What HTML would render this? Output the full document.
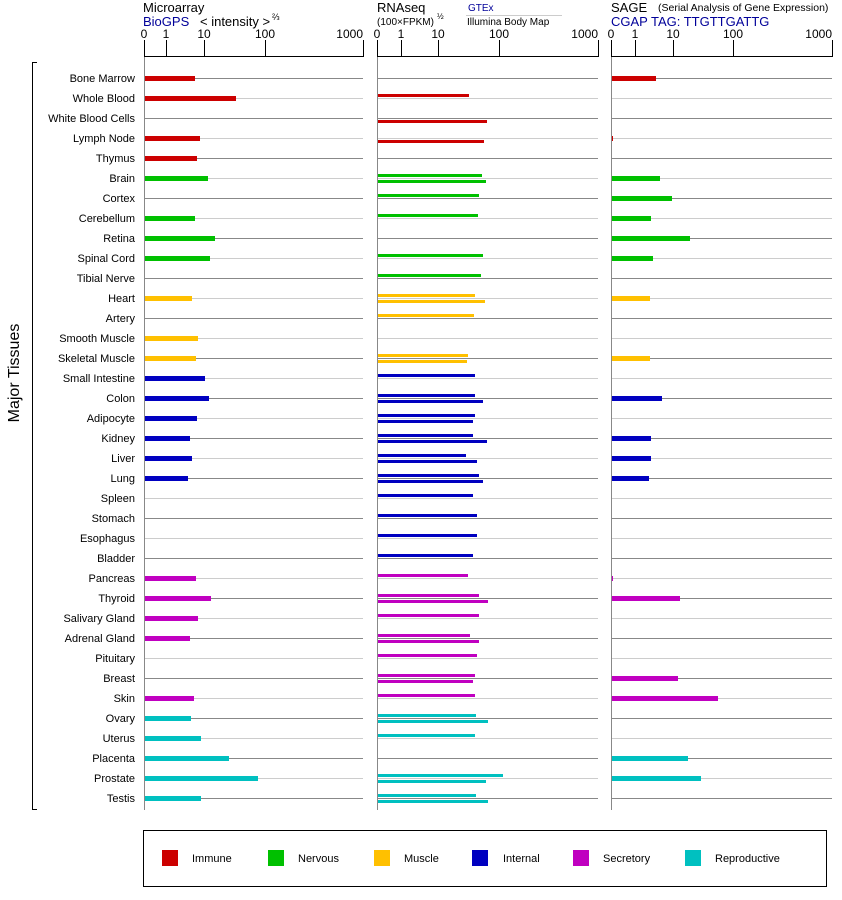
<!DOCTYPE html>
<html><head><meta charset="utf-8"><style>
body{margin:0;background:#fff;}
svg{display:block;font-family:"Liberation Sans",Arial,sans-serif;}
</style></head><body>
<svg id="s" width="842" height="900" xmlns="http://www.w3.org/2000/svg"></svg>
<script>
const S=document.getElementById('s');let h='';
const C={I:'#cc0000',N:'#00c000',M:'#ffc000',T:'#0000c0',S:'#c000c0',R:'#00c0c0'};
const rows=[
['Bone Marrow','I',195,null,null,656],
['Whole Blood','I',236,469,null,null],
['White Blood Cells','I',null,null,487,null],
['Lymph Node','I',200,null,484,613],
['Thymus','I',197,null,null,null],
['Brain','N',208,482,486,660],
['Cortex','N',null,479,null,672],
['Cerebellum','N',195,478,null,651],
['Retina','N',215,null,null,690],
['Spinal Cord','N',210,483,null,653],
['Tibial Nerve','N',null,481,null,null],
['Heart','M',192,475,485,650],
['Artery','M',null,474,null,null],
['Smooth Muscle','M',198,null,null,null],
['Skeletal Muscle','M',196,468,467,650],
['Small Intestine','T',205,475,null,null],
['Colon','T',209,475,483,662],
['Adipocyte','T',197,475,473,null],
['Kidney','T',190,473,487,651],
['Liver','T',192,466,477,651],
['Lung','T',188,479,483,649],
['Spleen','T',null,473,null,null],
['Stomach','T',null,477,null,null],
['Esophagus','T',null,477,null,null],
['Bladder','T',null,473,null,null],
['Pancreas','S',196,468,null,613],
['Thyroid','S',211,479,488,680],
['Salivary Gland','S',198,479,null,null],
['Adrenal Gland','S',190,470,479,null],
['Pituitary','S',null,477,null,null],
['Breast','S',null,475,473,678],
['Skin','S',194,475,null,718],
['Ovary','R',191,476,488,null],
['Uterus','R',201,475,null,null],
['Placenta','R',229,null,null,688],
['Prostate','R',258,503,486,701],
['Testis','R',201,476,488,null]];
const panels=[[144,363,[[144,'0'],[166,'1'],[204,'10'],[265,'100'],[363,'1000']]],
[377,598,[[377,'0'],[401,'1'],[438,'10'],[499,'100'],[598,'1000']]],
[611,832,[[611,'0'],[635,'1'],[673,'10'],[733,'100'],[832,'1000']]]];
rows.forEach((r,i)=>{const y=78+i*20;const col=i%2?'#cccccc':'#888888';
 panels.forEach(p=>{h+=`<line x1="${p[0]}" y1="${y+.5}" x2="${p[1]}" y2="${y+.5}" stroke="${col}" stroke-width="1"/>`;});
 h+=`<text x="135" y="${y+4}" font-size="11" text-anchor="end">${r[0]}</text>`;
 const c=C[r[1]];
 if(r[2])h+=`<rect x="144" y="${y-2}" width="${r[2]-144}" height="5" fill="${c}"/>`;
 if(r[5])h+=`<rect x="611" y="${y-2}" width="${r[5]-611}" height="5" fill="${c}"/>`;
 if(r[3])h+=`<rect x="377" y="${y-4}" width="${r[3]-377}" height="3" fill="${c}"/>`;
 if(r[4])h+=`<rect x="377" y="${y+2}" width="${r[4]-377}" height="3" fill="${c}"/>`;
});
panels.forEach(p=>{h+=`<line x1="${p[0]}" y1="56.5" x2="${p[1]}" y2="56.5" stroke="#000"/>`;
 h+=`<line x1="${p[0]+.5}" y1="40" x2="${p[0]+.5}" y2="810" stroke="#888"/>`;
 p[2].forEach((t,k)=>{h+=`<line x1="${t[0]+.5}" y1="40" x2="${t[0]+.5}" y2="57" stroke="#000"/>`;
 h+=`<text x="${t[0]}" y="38" font-size="12" text-anchor="${k==0?'middle':(k==4?'end':'middle')}">${t[1]}</text>`;});});
h+=`<text x="143" y="12" font-size="13">Microarray</text><text x="143" y="26" font-size="13" fill="#000099">BioGPS</text><text x="200" y="26" font-size="13">&lt; intensity &gt;</text><text x="272" y="20" font-size="9">⅔</text>`;
h+=`<text x="377" y="12" font-size="13">RNAseq</text><text x="377" y="25" font-size="10">(100×FPKM)</text><text x="437" y="19" font-size="8">½</text>`;
h+=`<text x="468" y="11" font-size="10" fill="#000099">GTEx</text><line x1="466" y1="15.5" x2="562" y2="15.5" stroke="#ccc"/><text x="467" y="25" font-size="10">Illumina Body Map</text>`;
h+=`<text x="611" y="12" font-size="13">SAGE</text><text x="658" y="11" font-size="10.5">(Serial Analysis of Gene Expression)</text><text x="611" y="26" font-size="13" fill="#000099">CGAP TAG: TTGTTGATTG</text>`;
h+=`<path d="M37 62.5H32.5V809.5H37" fill="none" stroke="#000"/><text transform="translate(19,373) rotate(-90)" font-size="16" text-anchor="middle">Major Tissues</text>`;
h+=`<rect x="143.5" y="830.5" width="683" height="56" fill="none" stroke="#000"/>`;
[['I','Immune',162,192],['N','Nervous',268,298],['M','Muscle',374,404],['T','Internal',472,503],['S','Secretory',573,603],['R','Reproductive',685,715]].forEach(l=>{
h+=`<rect x="${l[2]}" y="850" width="16" height="16" fill="${C[l[0]]}"/><text x="${l[3]}" y="862" font-size="11">${l[1]}</text>`;});
S.innerHTML=h;
</script></body></html>
